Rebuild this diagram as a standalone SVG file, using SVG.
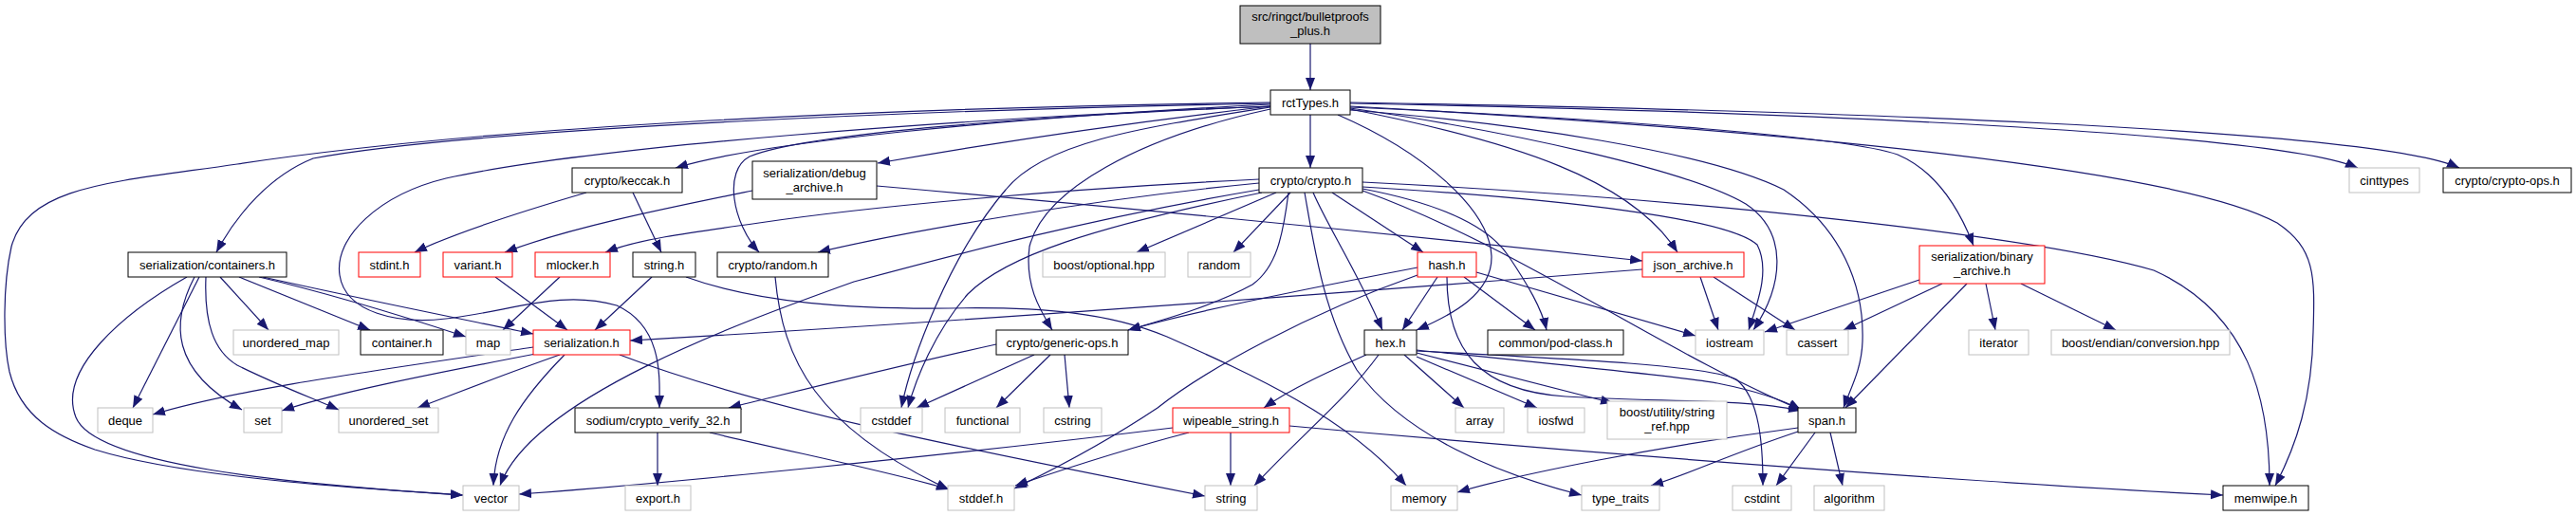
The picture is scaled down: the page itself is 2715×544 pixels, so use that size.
<svg xmlns="http://www.w3.org/2000/svg" width="2715" height="544" viewBox="0 0 2715 544">
<defs>
<style>
.e{fill:none;stroke:#191970;stroke-width:1.2;marker-end:url(#a)}
.n rect{fill:#fff;stroke:#000;stroke-width:1}
.g rect{stroke:#c0c0c0}
.r rect{stroke:#ff0000}
.root rect{fill:#bfbfbf}
text{font-family:"Liberation Sans",Arial,sans-serif;font-size:13px;text-anchor:middle;fill:#000}
</style>
<marker id="a" markerUnits="userSpaceOnUse" markerWidth="14" markerHeight="11" refX="13" refY="5" orient="auto"><path d="M0,0L13,5L0,10z" fill="#191970"/></marker>
</defs>
<rect width="2715" height="544" fill="#fff"/>
<g id="edges">
<path class="e" d="M1381,46 L1381,95"/>
<path class="e" d="M1381,121 L1381,177"/>
<path class="e" d="M1339,110 C1050,125 800,150 712,177"/>
<path class="e" d="M1339,112 C1200,128 1050,150 925,172"/>
<path class="e" d="M1339,112 C1100,122 850,140 790,165 C762,180 772,235 800,266"/>
<path class="e" d="M1339,109 C1000,115 500,135 330,167 C285,185 250,225 228,266"/>
<path class="e" d="M1339,108 C900,114 500,135 250,173 C120,192 30,195 12,260 C3,300 3,360 10,392 C22,440 60,460 100,474 C200,505 400,516 488,522"/>
<path class="e" d="M1339,112 C1000,125 620,155 470,188 C400,205 352,250 358,290 C364,330 420,342 470,336 C540,328 590,305 650,322 C700,345 695,400 695,430"/>
<path class="e" d="M1339,113 C1200,135 1100,150 1060,200 C1000,270 960,380 950,430"/>
<path class="e" d="M1339,115 C1200,145 1100,200 1085,260 C1080,300 1095,325 1109,348"/>
<path class="e" d="M1423,109 C1900,118 2400,140 2485,177"/>
<path class="e" d="M1423,108 C1900,116 2500,135 2592,177"/>
<path class="e" d="M1423,112 C1900,138 2300,180 2400,235 C2440,262 2440,290 2438,350 C2437,420 2420,470 2398,512"/>
<path class="e" d="M1423,113 C1700,125 1950,145 2000,163 C2040,180 2065,220 2080,259"/>
<path class="e" d="M1423,114 C1600,140 1780,180 1840,215 C1885,245 1880,300 1848,348"/>
<path class="e" d="M1423,116 C1600,130 1800,160 1880,200 C1940,240 1965,300 1963,360 C1962,390 1950,410 1943,430"/>
<path class="e" d="M1423,115 C1600,150 1720,190 1768,266"/>
<path class="e" d="M1410,121 C1500,160 1570,220 1572,270 C1573,310 1530,332 1493,348"/>
<path class="e" d="M1327,189 C1100,200 900,220 800,235 C720,246 670,253 638,266"/>
<path class="e" d="M1327,193 C1150,210 950,245 862,266"/>
<path class="e" d="M1327,200 C1150,230 1000,270 900,297 C780,340 560,420 527,512"/>
<path class="e" d="M1330,203 C1150,240 1060,270 1020,310 C985,350 965,400 957,430"/>
<path class="e" d="M1345,203 L1198,266"/>
<path class="e" d="M1360,203 L1300,266"/>
<path class="e" d="M1358,203 C1352,250 1345,282 1320,300 C1280,322 1230,336 1189,348"/>
<path class="e" d="M1375,203 C1385,260 1395,330 1430,390 C1480,460 1580,500 1667,522"/>
<path class="e" d="M1384,203 C1400,240 1430,285 1457,348"/>
<path class="e" d="M1404,203 L1500,266"/>
<path class="e" d="M1436,199 C1520,215 1570,240 1590,270 C1610,300 1625,325 1630,348"/>
<path class="e" d="M1436,201 C1600,260 1750,370 1898,432"/>
<path class="e" d="M1436,197 C1650,210 1820,230 1852,258 C1866,285 1852,320 1843,348"/>
<path class="e" d="M1436,192 C1800,210 2150,250 2270,285 C2370,330 2392,420 2392,512"/>
<path class="e" d="M1494,282 C1400,300 1250,330 1189,348"/>
<path class="e" d="M1494,290 C1380,330 1270,390 1220,430 C1160,470 1100,500 1069,515"/>
<path class="e" d="M1515,292 L1478,348"/>
<path class="e" d="M1543,292 L1618,348"/>
<path class="e" d="M1556,287 L1787,354"/>
<path class="e" d="M1525,292 C1525,370 1560,412 1650,418 C1750,424 1840,420 1898,433"/>
<path class="e" d="M1480,374 L1543,430"/>
<path class="e" d="M1493,376 L1620,430"/>
<path class="e" d="M1493,372 L1700,425"/>
<path class="e" d="M1493,369 C1650,385 1780,398 1810,404 C1850,412 1880,422 1898,432"/>
<path class="e" d="M1493,370 C1650,378 1800,385 1830,400 C1855,420 1858,470 1858,512"/>
<path class="e" d="M1440,374 C1400,392 1360,410 1332,430"/>
<path class="e" d="M1453,374 C1420,420 1370,460 1322,512"/>
<path class="e" d="M1895,451 C1750,470 1600,500 1536,519"/>
<path class="e" d="M1895,455 C1820,480 1780,500 1740,512"/>
<path class="e" d="M1913,456 L1872,512"/>
<path class="e" d="M1929,456 L1942,512"/>
<path class="e" d="M1236,451 C1000,480 700,510 547,521"/>
<path class="e" d="M1253,456 C1180,475 1120,495 1070,512"/>
<path class="e" d="M1297,456 L1297,512"/>
<path class="e" d="M1359,449 C1700,480 2100,510 2343,522"/>
<path class="e" d="M1792,292 L1811,348"/>
<path class="e" d="M1806,292 L1892,348"/>
<path class="e" d="M1731,284 C1400,310 1000,340 664,359"/>
<path class="e" d="M2023,295 L1860,350"/>
<path class="e" d="M2047,299 L1943,348"/>
<path class="e" d="M2073,299 L1945,430"/>
<path class="e" d="M2093,299 L2103,348"/>
<path class="e" d="M2130,299 L2230,348"/>
<path class="e" d="M793,201 C700,220 600,240 532,266"/>
<path class="e" d="M924,196 C1200,220 1500,250 1731,275"/>
<path class="e" d="M618,203 C560,220 480,245 437,266"/>
<path class="e" d="M667,203 L697,266"/>
<path class="e" d="M522,292 L598,348"/>
<path class="e" d="M590,292 L530,348"/>
<path class="e" d="M687,292 L627,348"/>
<path class="e" d="M723,292 C800,320 900,326 1000,325 C1100,323 1170,330 1230,355 C1320,395 1420,440 1482,512"/>
<path class="e" d="M817,292 C825,380 860,450 1000,516"/>
<path class="e" d="M693,456 L693,512"/>
<path class="e" d="M748,456 C850,480 950,500 1000,516"/>
<path class="e" d="M1050,363 C950,385 850,410 768,430"/>
<path class="e" d="M1090,374 L966,430"/>
<path class="e" d="M1107,374 L1050,430"/>
<path class="e" d="M1122,374 L1127,430"/>
<path class="e" d="M562,366 C400,390 250,410 161,437"/>
<path class="e" d="M570,372 C450,395 350,415 297,433"/>
<path class="e" d="M590,374 C530,395 480,415 440,430"/>
<path class="e" d="M595,374 C550,420 522,460 520,512"/>
<path class="e" d="M653,374 C800,430 1000,470 1270,523"/>
<path class="e" d="M210,292 L140,430"/>
<path class="e" d="M205,292 C180,340 180,390 255,432"/>
<path class="e" d="M217,292 C215,340 225,370 250,385 C290,405 330,420 357,432"/>
<path class="e" d="M232,292 L283,348"/>
<path class="e" d="M252,292 L390,348"/>
<path class="e" d="M273,292 C350,310 430,335 491,355"/>
<path class="e" d="M277,292 C380,315 480,335 562,352"/>
<path class="e" d="M197,292 C130,330 60,390 80,440 C100,490 300,510 488,522"/>
</g>
<g id="n_root" class="n root"><rect x="1307" y="6" width="148" height="40"/><text x="1381" y="22">src/ringct/bulletproofs</text><text x="1381" y="37">_plus.h</text></g>
<g id="n_rct" class="n"><rect x="1339" y="95" width="84" height="26"/><text x="1381" y="112.5">rctTypes.h</text></g>
<g id="n_keccak" class="n"><rect x="603" y="177" width="116" height="26"/><text x="661" y="194.5">crypto/keccak.h</text></g>
<g id="n_debug" class="n"><rect x="793" y="170" width="131" height="40"/><text x="858.5" y="186.5">serialization/debug</text><text x="858.5" y="201.5">_archive.h</text></g>
<g id="n_crypto" class="n"><rect x="1327" y="177" width="109" height="26"/><text x="1381.5" y="194.5">crypto/crypto.h</text></g>
<g id="n_binary" class="n r"><rect x="2023" y="259" width="132" height="40"/><text x="2089" y="275">serialization/binary</text><text x="2089" y="290">_archive.h</text></g>
<g id="n_cinttypes" class="n g"><rect x="2476" y="177" width="74" height="26"/><text x="2513" y="194.5">cinttypes</text></g>
<g id="n_cryptoops" class="n"><rect x="2575" y="177" width="135" height="26"/><text x="2642.5" y="194.5">crypto/crypto-ops.h</text></g>
<g id="n_containers" class="n"><rect x="135" y="266" width="167" height="26"/><text x="218.5" y="283.5">serialization/containers.h</text></g>
<g id="n_stdint" class="n r"><rect x="378" y="266" width="65" height="26"/><text x="410.5" y="283.5">stdint.h</text></g>
<g id="n_variant" class="n r"><rect x="467" y="266" width="73" height="26"/><text x="503.5" y="283.5">variant.h</text></g>
<g id="n_mlocker" class="n r"><rect x="564" y="266" width="79" height="26"/><text x="603.5" y="283.5">mlocker.h</text></g>
<g id="n_stringh" class="n"><rect x="667" y="266" width="66" height="26"/><text x="700" y="283.5">string.h</text></g>
<g id="n_randomh" class="n"><rect x="756" y="266" width="117" height="26"/><text x="814.5" y="283.5">crypto/random.h</text></g>
<g id="n_optional" class="n g"><rect x="1099" y="266" width="129" height="26"/><text x="1163.5" y="283.5">boost/optional.hpp</text></g>
<g id="n_random" class="n g"><rect x="1252" y="266" width="66" height="26"/><text x="1285" y="283.5">random</text></g>
<g id="n_hash" class="n r"><rect x="1494" y="266" width="62" height="26"/><text x="1525" y="283.5">hash.h</text></g>
<g id="n_json" class="n r"><rect x="1731" y="266" width="107" height="26"/><text x="1784.5" y="283.5">json_archive.h</text></g>
<g id="n_umap" class="n g"><rect x="246" y="348" width="111" height="26"/><text x="301.5" y="365.5">unordered_map</text></g>
<g id="n_container" class="n"><rect x="380" y="348" width="87" height="26"/><text x="423.5" y="365.5">container.h</text></g>
<g id="n_map" class="n g"><rect x="491" y="348" width="47" height="26"/><text x="514.5" y="365.5">map</text></g>
<g id="n_serialization" class="n r"><rect x="562" y="348" width="102" height="26"/><text x="613" y="365.5">serialization.h</text></g>
<g id="n_genops" class="n"><rect x="1050" y="348" width="139" height="26"/><text x="1119.5" y="365.5">crypto/generic-ops.h</text></g>
<g id="n_hex" class="n"><rect x="1438" y="348" width="55" height="26"/><text x="1465.5" y="365.5">hex.h</text></g>
<g id="n_podclass" class="n"><rect x="1568" y="348" width="143" height="26"/><text x="1639.5" y="365.5">common/pod-class.h</text></g>
<g id="n_iostream" class="n g"><rect x="1787" y="348" width="72" height="26"/><text x="1823" y="365.5">iostream</text></g>
<g id="n_cassert" class="n g"><rect x="1883" y="348" width="65" height="26"/><text x="1915.5" y="365.5">cassert</text></g>
<g id="n_iterator" class="n g"><rect x="2075" y="348" width="63" height="26"/><text x="2106.5" y="365.5">iterator</text></g>
<g id="n_endian" class="n g"><rect x="2162" y="348" width="188" height="26"/><text x="2256" y="365.5">boost/endian/conversion.hpp</text></g>
<g id="n_deque" class="n g"><rect x="103" y="430" width="58" height="26"/><text x="132" y="447.5">deque</text></g>
<g id="n_set" class="n g"><rect x="257" y="430" width="40" height="26"/><text x="277" y="447.5">set</text></g>
<g id="n_uset" class="n g"><rect x="357" y="430" width="105" height="26"/><text x="409.5" y="447.5">unordered_set</text></g>
<g id="n_sodium" class="n"><rect x="606" y="430" width="175" height="26"/><text x="693.5" y="447.5">sodium/crypto_verify_32.h</text></g>
<g id="n_cstddef" class="n g"><rect x="907" y="430" width="65" height="26"/><text x="939.5" y="447.5">cstddef</text></g>
<g id="n_functional" class="n g"><rect x="996" y="430" width="79" height="26"/><text x="1035.5" y="447.5">functional</text></g>
<g id="n_cstring" class="n g"><rect x="1100" y="430" width="61" height="26"/><text x="1130.5" y="447.5">cstring</text></g>
<g id="n_wipeable" class="n r"><rect x="1236" y="430" width="123" height="26"/><text x="1297.5" y="447.5">wipeable_string.h</text></g>
<g id="n_array" class="n g"><rect x="1534" y="430" width="51" height="26"/><text x="1559.5" y="447.5">array</text></g>
<g id="n_iosfwd" class="n g"><rect x="1610" y="430" width="60" height="26"/><text x="1640" y="447.5">iosfwd</text></g>
<g id="n_stringref" class="n g"><rect x="1694" y="423" width="126" height="40"/><text x="1757" y="439">boost/utility/string</text><text x="1757" y="454">_ref.hpp</text></g>
<g id="n_span" class="n"><rect x="1895" y="430" width="61" height="26"/><text x="1925.5" y="447.5">span.h</text></g>
<g id="n_vector" class="n g"><rect x="488" y="512" width="59" height="26"/><text x="517.5" y="529.5">vector</text></g>
<g id="n_export" class="n g"><rect x="659" y="512" width="69" height="26"/><text x="693.5" y="529.5">export.h</text></g>
<g id="n_stddef" class="n g"><rect x="999" y="512" width="70" height="26"/><text x="1034" y="529.5">stddef.h</text></g>
<g id="n_string" class="n g"><rect x="1270" y="512" width="55" height="26"/><text x="1297.5" y="529.5">string</text></g>
<g id="n_memory" class="n g"><rect x="1466" y="512" width="70" height="26"/><text x="1501" y="529.5">memory</text></g>
<g id="n_typetraits" class="n g"><rect x="1667" y="512" width="82" height="26"/><text x="1708" y="529.5">type_traits</text></g>
<g id="n_cstdint" class="n g"><rect x="1826" y="512" width="62" height="26"/><text x="1857" y="529.5">cstdint</text></g>
<g id="n_algorithm" class="n g"><rect x="1912" y="512" width="74" height="26"/><text x="1949" y="529.5">algorithm</text></g>
<g id="n_memwipe" class="n"><rect x="2343" y="512" width="90" height="26"/><text x="2388" y="529.5">memwipe.h</text></g>
</svg>
